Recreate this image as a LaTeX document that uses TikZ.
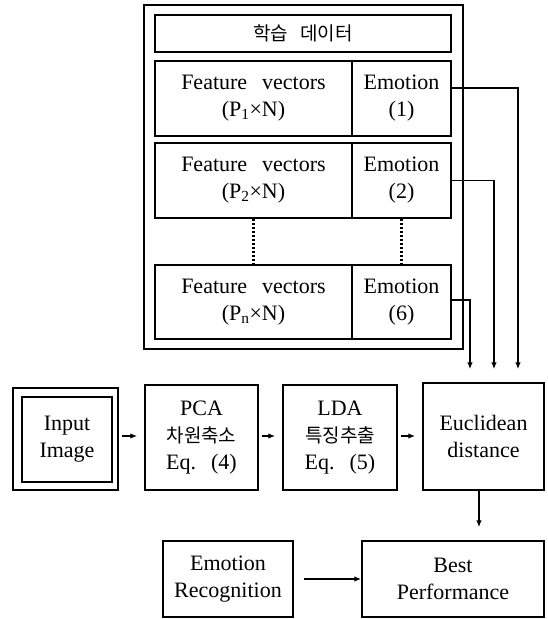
\documentclass[tikz,border=0pt]{standalone}
\usepackage{fontspec}
\setmainfont{Liberation Serif}
\newfontfamily\kr{Noto Sans CJK KR}
\usetikzlibrary{arrows.meta,calc}
\newcommand{\wsp}{\hspace{15pt}}
\newcommand{\krt}[1]{{\kr\fontsize{19}{27}\selectfont #1}}
\begin{document}
\begin{tikzpicture}[x=1pt,y=-1pt,
  box/.style={draw,line width=1.4pt,inner sep=0pt,align=center,font=\fontsize{22}{27}\selectfont},
  conn/.style={line width=1.4pt},
  arr/.style={conn,-{Latex[length=7pt,width=5.5pt]}}]
\useasboundingbox (0,0) rectangle (548,619);

% training data frame
\node[box,minimum width=319pt,minimum height=344pt] (frame) at (303.5,177) {};
\node[box,minimum width=296pt,minimum height=37pt,font=\kr\fontsize{19}{22}\selectfont] (title) at (303,33.5) {학습\hspace{12pt}데이터};
\node[box,minimum width=197pt,minimum height=75pt] (f1) at (253.5,98.5) {Feature\wsp vectors\\(P\textsubscript{1}×N)};
\node[box,minimum width=99pt,minimum height=75pt] (e1) at (401.5,98.5) {Emotion\\(1)};
\node[box,minimum width=197pt,minimum height=75pt] (f2) at (253.5,180.5) {Feature\wsp vectors\\(P\textsubscript{2}×N)};
\node[box,minimum width=99pt,minimum height=75pt] (e2) at (401.5,180.5) {Emotion\\(2)};
\node[box,minimum width=197pt,minimum height=74pt] (fn) at (253.5,302) {Feature\wsp vectors\\(P\textsubscript{n}×N)};
\node[box,minimum width=99pt,minimum height=74pt] (en) at (401.5,302) {Emotion\\(6)};
\draw[line width=2.2pt,dash pattern=on 2pt off 2pt] (f2.south) -- (fn.north);
\draw[line width=2.2pt,dash pattern=on 2pt off 2pt] (e2.south) -- (en.north);

% processing row
\node[box,minimum width=105pt,minimum height=102pt] (inouter) at (65.5,439) {};
\node[box,minimum width=90pt,minimum height=85pt] (inp) at (67,439.5) {Input\\Image};
\node[box,minimum width=113pt,minimum height=105pt] (pca) at (201.5,437.5) {PCA\\\krt{차원축소}\\Eq.\wsp(4)};
\node[box,minimum width=114pt,minimum height=105pt] (lda) at (340,437.5) {LDA\\\krt{특징추출}\\Eq.\wsp(5)};
\node[box,minimum width=121pt,minimum height=107pt] (eu) at (483.5,436.5) {Euclidean\\distance};
\node[box,minimum width=130pt,minimum height=76pt] (er) at (228,579) {Emotion\\Recognition};
\node[box,minimum width=182pt,minimum height=76pt] (bp) at (453,579) {Best\\Performance};

% connectors from emotion labels
\coordinate (c1) at (518,88);
\coordinate (c2) at (494,180.5);
\coordinate (c3) at (470,300);
\draw[arr,shorten >=13pt] (e1.east |- c1) -- (c1) -- (c1 |- eu.north);
\draw[arr,shorten >=13pt] (e2.east |- c2) -- (c2) -- (c2 |- eu.north);
\draw[arr,shorten >=13pt] (en.east |- c3) -- (c3) -- (c3 |- eu.north);

% row arrows
\coordinate (r) at (0,436);
\draw[arr,shorten <=3pt,shorten >=7pt] (inouter.east |- r) -- (pca.west |- r);
\draw[arr,shorten <=3pt,shorten >=7pt] (pca.east |- r) -- (lda.west |- r);
\draw[arr,shorten <=3pt,shorten >=7pt] (lda.east |- r) -- (eu.west |- r);

% bottom
\coordinate (c4) at (479,0);
\draw[arr,shorten >=13pt] (c4 |- eu.south) -- (c4 |- bp.north);
\draw[arr,shorten <=10pt] (er.east) -- (bp.west);
\end{tikzpicture}
\end{document}
